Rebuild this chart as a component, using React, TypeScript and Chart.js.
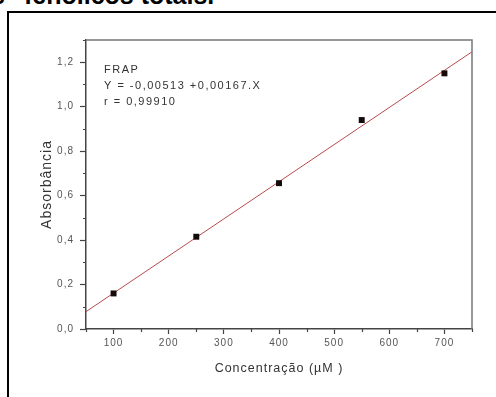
import React, { useEffect, useRef } from "react";
import { Chart, registerables } from "chart.js";

Chart.register(...registerables);

// ---- data ----
const concentrations = [100, 250, 400, 550, 700];
const absorbances = [0.16, 0.415, 0.656, 0.94, 1.15];
const fitX = [50, 750];
const fitY = [0.078, 1.247];
const xMajorTicks = [100, 200, 300, 400, 500, 600, 700];
const xMinorTicks = [50, 150, 250, 350, 450, 550, 650, 750];
const yMajorTicks = [0, 0.2, 0.4, 0.6, 0.8, 1.0, 1.2];
const yMinorTicks = [0.1, 0.3, 0.5, 0.7, 0.9, 1.1, 1.3];
const annotationLines = ["FRAP", "Y = -0,00513 +0,00167.X", "r = 0,99910"];
const xTitle = "Concentração (µM )";
const yTitle = "Absorbância";
const headingStart = "s";
const headingRest = "fenólicos totais.";

const FAMILY = '"Liberation Sans", Arial, sans-serif';

const decorPlugin = {
  id: "decor",
  beforeDraw(chart: any) {
    chart.ctx.letterSpacing = "1px";
  },
  afterDraw(chart: any) {
    const { ctx, chartArea, scales } = chart;
    const { left, right, top, bottom } = chartArea;
    ctx.save();
    ctx.letterSpacing = "0px";
    // top & right frame
    ctx.strokeStyle = "#777";
    ctx.lineWidth = 1.5;
    ctx.beginPath();
    ctx.moveTo(left, top);
    ctx.lineTo(right, top);
    ctx.lineTo(right, bottom);
    ctx.stroke();
    // minor ticks
    ctx.strokeStyle = "#444";
    ctx.lineWidth = 1.2;
    ctx.beginPath();
    xMinorTicks.forEach((v) => {
      const px = Math.round(scales.x.getPixelForValue(v)) + 0.5;
      ctx.moveTo(px, bottom);
      ctx.lineTo(px, bottom + 3);
    });
    yMinorTicks.forEach((v) => {
      const py = Math.round(scales.y.getPixelForValue(v)) + 0.5;
      ctx.moveTo(left - 3, py);
      ctx.lineTo(left, py);
    });
    ctx.stroke();
    // annotation
    ctx.fillStyle = "#333";
    ctx.font = `11px ${FAMILY}`;
    ctx.letterSpacing = "1.5px";
    ctx.textBaseline = "alphabetic";
    ctx.textAlign = "left";
    annotationLines.forEach((t, i) => {
      ctx.fillText(t, left + 18, top + 33 + i * 15.8);
    });
    ctx.restore();
    ctx.letterSpacing = "0px";
  },
};

export default function App() {
  const ref = useRef<HTMLCanvasElement | null>(null);

  useEffect(() => {
    if (!ref.current) return;
    const chart = new Chart(ref.current, {
      type: "scatter",
      data: {
        datasets: [
          {
            type: "scatter",
            data: concentrations.map((x, i) => ({ x, y: absorbances[i] })),
            pointStyle: "rect",
            pointRadius: 4.2,
            backgroundColor: "#150a0a",
            borderColor: "#150a0a",
            borderWidth: 0,
            order: 1,
          } as any,
          {
            type: "line",
            data: fitX.map((x, i) => ({ x, y: fitY[i] })),
            borderColor: "#b94a4a",
            borderWidth: 1,
            pointRadius: 0,
            showLine: true,
            fill: false,
            order: 2,
          } as any,
        ],
      },
      options: {
        responsive: false,
        animation: false,
        events: [],
        layout: { padding: { top: 40, right: 24, left: 0, bottom: 0 } },
        plugins: { legend: { display: false }, tooltip: { enabled: false } },
        scales: {
          x: {
            type: "linear",
            min: 50,
            max: 750,
            afterBuildTicks: (s: any) => {
              s.ticks = xMajorTicks.map((v) => ({ value: v }));
            },
            afterFit: (s: any) => {
              s.height = 68;
            },
            grid: {
              display: true,
              drawOnChartArea: false,
              drawTicks: true,
              tickLength: 5,
              tickColor: "#444",
              tickWidth: 1.2,
            },
            border: { display: true, color: "#444", width: 1.5 },
            ticks: {
              font: { family: FAMILY, size: 10 },
              color: "#555",
              padding: 3,
              maxRotation: 0,
              autoSkip: false,
              callback: (v: any) => String(v),
            },
            title: {
              display: true,
              text: xTitle,
              font: { family: FAMILY, size: 12.5 },
              color: "#333",
              padding: { top: 0, bottom: 21 },
            },
          },
          y: {
            type: "linear",
            min: 0,
            max: 1.3,
            afterBuildTicks: (s: any) => {
              s.ticks = yMajorTicks.map((v) => ({ value: v }));
            },
            afterFit: (s: any) => {
              s.width = 86;
            },
            grid: {
              display: true,
              drawOnChartArea: false,
              drawTicks: true,
              tickLength: 6,
              tickColor: "#444",
              tickWidth: 1.2,
            },
            border: { display: true, color: "#444", width: 1.5 },
            ticks: {
              font: { family: FAMILY, size: 10 },
              color: "#555",
              padding: 6,
              autoSkip: false,
              callback: (v: any) => Number(v).toFixed(1).replace(".", ","),
            },
            title: {
              display: true,
              text: yTitle,
              font: { family: FAMILY, size: 14 },
              color: "#333",
              padding: { top: 39, bottom: 0 },
            },
          },
        },
      },
      plugins: [decorPlugin],
    });
    return () => chart.destroy();
  }, []);

  return (
    <div
      style={{
        position: "fixed",
        left: 0,
        top: 0,
        width: 496,
        height: 397,
        overflow: "hidden",
        background: "#fff",
      }}
    >
      <div
        style={{
          position: "absolute",
          left: 7,
          top: 11,
          width: 600,
          height: 500,
          border: "2px solid #000",
          boxSizing: "border-box",
        }}
      />
      <span
        style={{
          position: "absolute",
          left: -9,
          top: -17,
          font: `bold 25px/25px ${FAMILY}`,
          color: "#000",
          whiteSpace: "nowrap",
        }}
      >
        {headingStart}
      </span>
      <span
        style={{
          position: "absolute",
          left: 24,
          top: -17,
          font: `bold 25px/25px ${FAMILY}`,
          color: "#000",
          whiteSpace: "nowrap",
        }}
      >
        {headingRest}
      </span>
      <canvas
        ref={ref}
        width={496}
        height={397}
        style={{ position: "absolute", left: 0, top: 0, width: 496, height: 397 }}
      />
    </div>
  );
}
